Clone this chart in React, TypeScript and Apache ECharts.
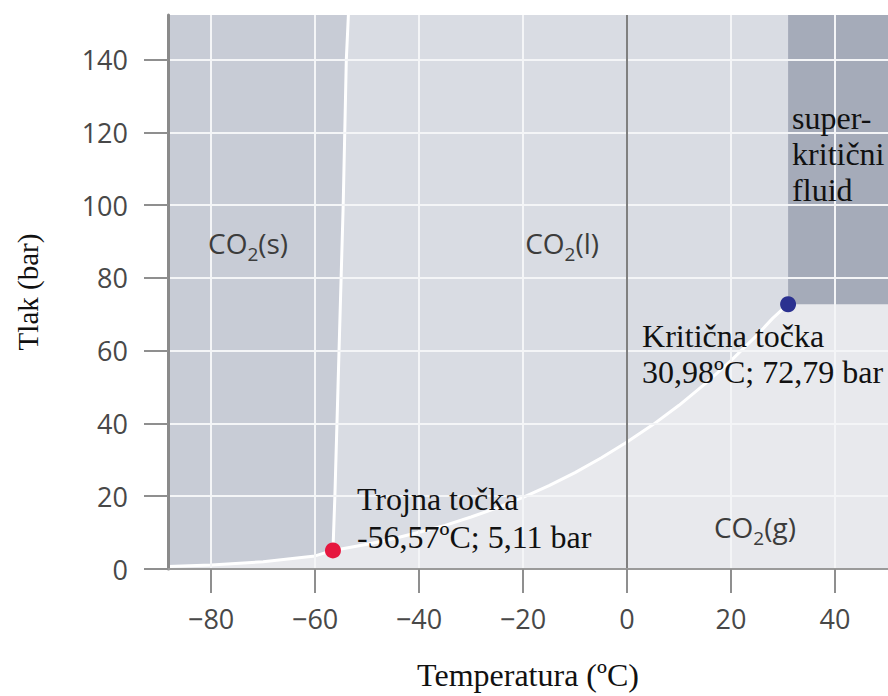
import { useEffect, useRef } from "react";
import * as echarts from "echarts";

const X_MIN = -88.3;
const X_MAX = 50.2;
const Y_MIN = 0;
const Y_MAX = 152.3;

const xTicks = [-80, -60, -40, -20, 0, 20, 40];
const yTicks = [0, 20, 40, 60, 80, 100, 120, 140];

const sublimation: number[][] = [
  [-88.3, 0.7], [-80, 1.1], [-70, 2.0], [-60, 3.6], [-56.57, 5.11],
];
const vaporization: number[][] = [
  [-56.57, 5.11], [-50, 6.8], [-45, 8.3], [-40, 10.1], [-35, 12.0], [-30, 14.3],
  [-25, 16.8], [-20, 19.7], [-15, 22.9], [-10, 26.5], [-5, 30.5], [0, 34.9],
  [5, 39.7], [10, 45.0], [15, 50.9], [20, 57.3], [25, 64.3], [28, 68.9], [30.98, 72.79],
];
const melting: number[][] = [
  [-56.57, 5.11], [-56.2, 20], [-55.6, 50], [-55.0, 80], [-54.6, 100], [-54.0, 140], [-53.6, 152.3],
];
const triplePoint = [-56.57, 5.11];
const criticalPoint = [30.98, 72.79];

const tripleLabel = "Trojna točka\n-56,57ºC; 5,11 bar";
const criticalLabel = "Kritična točka\n30,98ºC; 72,79 bar";
const supercriticalLabel = "super-\nkritični\nfluid";

const phaseNames = ["s", "l", "g"];
const phaseX = [-72.9, -12.5, 24.6];
const phaseY = [89.5, 89.5, 11.5];

const xTitle = "Temperatura (ºC)";
const yTitle = "Tlak (bar)";

export default function App() {
  const ref = useRef<HTMLDivElement>(null);
  useEffect(() => {
    if (!ref.current) return;
    const chart = echarts.init(ref.current, null, { renderer: "svg" });

    const solidPoly = [[X_MIN, Y_MAX], ...sublimation, ...melting.slice(1)];
    const liquidPoly = [
      ...vaporization,
      [criticalPoint[0], Y_MAX],
      ...melting.slice().reverse().slice(0, -1),
    ];
    const superPoly = [
      criticalPoint,
      [X_MAX, criticalPoint[1]],
      [X_MAX, Y_MAX],
      [criticalPoint[0], Y_MAX],
    ];

    const serif = "'Liberation Serif', 'Times New Roman', serif";
    const sans = "'Open Sans', 'Noto Sans', sans-serif";

    const option: any = {
      animation: false,
      grid: {
        left: 168,
        right: 0,
        top: 15,
        bottom: 123,
        show: true,
        backgroundColor: "#e8e9ed",
        borderWidth: 0,
      },
      xAxis: {
        type: "value",
        min: X_MIN,
        max: X_MAX,
        z: 10,
        name: xTitle,
        nameLocation: "middle",
        nameGap: 90,
        nameTextStyle: { fontFamily: serif, fontSize: 32, color: "#111" },
        axisLine: { show: true, onZero: false, lineStyle: { color: "#9a9a9a", width: 2 } },
        axisTick: {
          show: true,
          length: 24,
          customValues: xTicks,
          lineStyle: { color: "#8f8f8f", width: 2 },
        },
        axisLabel: {
          customValues: xTicks,
          margin: 36,
          fontSize: 27,
          fontFamily: sans,
          color: "#484848",
          formatter: (v: number) => (v < 0 ? "\u2212" + Math.abs(v) : String(v)),
        },
        splitLine: { show: false },
      },
      yAxis: {
        type: "value",
        min: Y_MIN,
        max: Y_MAX,
        z: 10,
        name: yTitle,
        nameLocation: "middle",
        nameGap: 126,
        nameTextStyle: { fontFamily: serif, fontSize: 29, color: "#111" },
        axisLine: { show: true, onZero: false, lineStyle: { color: "#8a8a8a", width: 3 } },
        axisTick: {
          show: true,
          length: 24,
          customValues: yTicks,
          lineStyle: { color: "#8f8f8f", width: 2 },
        },
        axisLabel: {
          customValues: yTicks,
          margin: 40,
          fontSize: 27,
          fontFamily: sans,
          color: "#484848",
        },
        splitLine: { show: false },
      },
      series: [
        {
          type: "custom",
          z: 1,
          silent: true,
          data: [[X_MIN, Y_MIN]],
          encode: { x: 0, y: 1 },
          renderItem: (_p: any, api: any) => ({
            type: "group",
            children: [
              {
                type: "polygon",
                shape: { points: solidPoly.map((p) => api.coord(p)) },
                style: { fill: "#c8ccd6" },
              },
              {
                type: "polygon",
                shape: { points: liquidPoly.map((p) => api.coord(p)) },
                style: { fill: "#d9dce3" },
              },
            ],
          }),
        },
        {
          type: "line",
          z: 2,
          data: [],
          silent: true,
          markLine: {
            silent: true,
            symbol: ["none", "none"],
            label: { show: false },
            lineStyle: { color: "#f4f5f7", width: 2, type: "solid" },
            data: [
              ...xTicks.filter((v) => v !== 0).map((v) => ({ xAxis: v })),
              ...yTicks.filter((v) => v > 0).map((v) => ({ yAxis: v })),
            ],
          },
        },
        {
          type: "custom",
          z: 3,
          silent: true,
          data: [[X_MIN, Y_MIN]],
          encode: { x: 0, y: 1 },
          renderItem: (_p: any, api: any) => ({
            type: "polygon",
            shape: { points: superPoly.map((p) => api.coord(p)) },
            style: { fill: "#a5abb9" },
          }),
        },
        {
          type: "line",
          z: 4,
          silent: true,
          symbol: "none",
          data: [...sublimation, ...vaporization.slice(1)],
          lineStyle: { color: "#ffffff", width: 3 },
          markLine: {
            silent: true,
            symbol: ["none", "none"],
            label: { show: false },
            lineStyle: { color: "#808080", width: 2, type: "solid" },
            data: [{ xAxis: 0 }],
          },
        },
        {
          type: "line",
          z: 4,
          silent: true,
          symbol: "none",
          data: melting,
          lineStyle: { color: "#ffffff", width: 3 },
        },
        {
          type: "scatter",
          z: 6,
          silent: true,
          symbolSize: 16,
          itemStyle: { opacity: 1 },
          data: [
            {
              value: triplePoint,
              itemStyle: { color: "#e6173f", opacity: 1 },
              label: {
                show: true,
                formatter: tripleLabel,
                position: [32, -62],
                align: "left",
                verticalAlign: "top",
                lineHeight: 38,
              },
            },
            {
              value: criticalPoint,
              itemStyle: { color: "#2b3190", opacity: 1 },
              label: {
                show: true,
                formatter: criticalLabel,
                position: [-138, 22],
                align: "left",
                verticalAlign: "top",
              },
            },
          ],
          label: {
            fontFamily: serif,
            fontSize: 32,
            lineHeight: 36,
            color: "#111",
          },
        },
        {
          type: "scatter",
          z: 6,
          silent: true,
          symbolSize: 0,
          itemStyle: { opacity: 1 },
          data: [
            {
              value: [criticalPoint[0], Y_MAX],
              label: {
                show: true,
                formatter: supercriticalLabel,
                position: [4, 85],
                align: "left",
                verticalAlign: "top",
                fontFamily: serif,
                fontSize: 32,
                lineHeight: 36,
                color: "#111",
              },
            },
          ],
        },
        {
          type: "scatter",
          z: 6,
          silent: true,
          symbolSize: 0,
          itemStyle: { opacity: 1 },
          data: phaseNames.map((n, i) => ({ value: [phaseX[i], phaseY[i]], name: n })),
          label: {
            show: true,
            position: "inside",
            formatter: (p: any) => `{a|CO}{b|2}{a|(${p.name})}`,
            rich: {
              a: { fontFamily: sans, fontSize: 28, lineHeight: 40, color: "#3c3c3c", verticalAlign: "middle" },
              b: { fontFamily: sans, fontSize: 19, lineHeight: 22, color: "#3c3c3c", verticalAlign: "bottom" },
            },
          },
        },
      ],
    };
    chart.setOption(option);
    return () => chart.dispose();
  }, []);
  return (
    <div
      ref={ref}
      style={{ position: "absolute", left: 0, top: 0, width: 888, height: 696 }}
    />
  );
}
